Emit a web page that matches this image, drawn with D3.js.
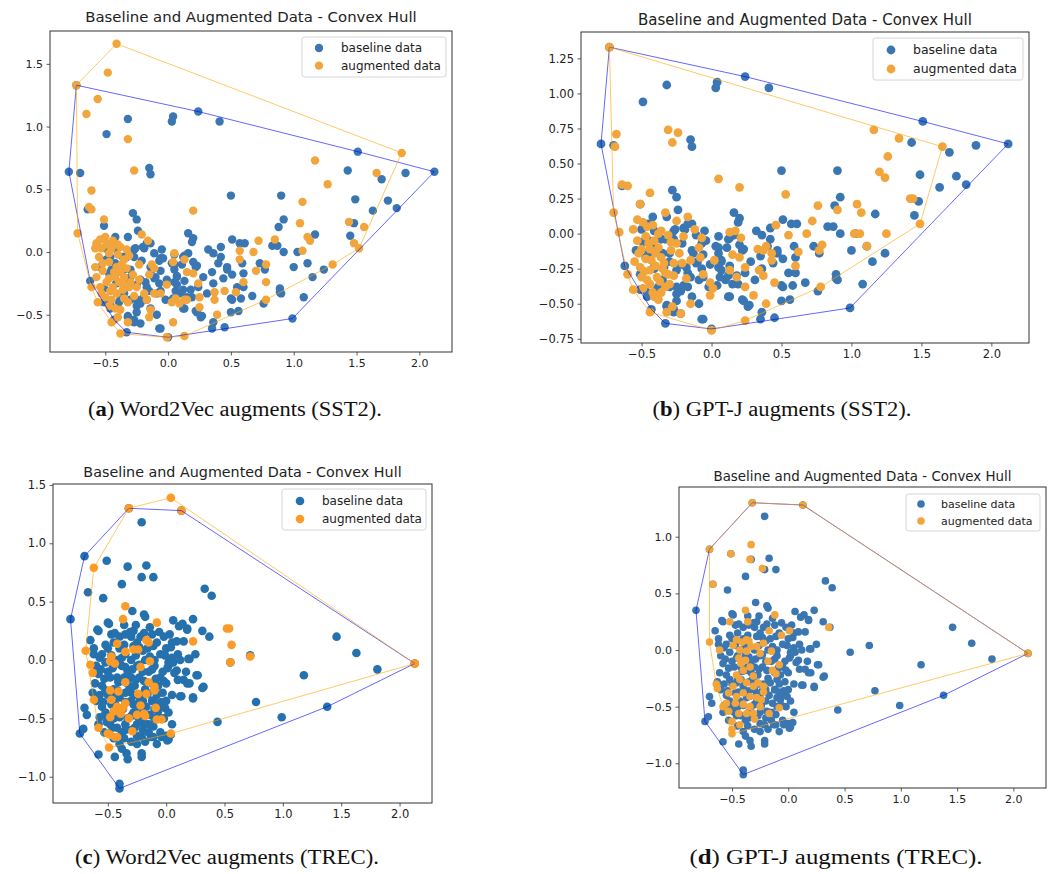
<!DOCTYPE html>
<html><head><meta charset="utf-8">
<script src="https://cdn.jsdelivr.net/npm/d3@7"></script>
<style>body{margin:0;background:#fff}svg{display:block}</style>
</head><body>
<svg id="chart" width="1051" height="874"></svg>
<script>
// ---------- DATA ----------
const seriesNames = ["baseline data", "augmented data"];
const titleText = "Baseline and Augmented Data - Convex Hull";
const captions = [
  ["a", " Word2Vec augments (SST2)."],
  ["b", " GPT-J augments (SST2)."],
  ["c", " Word2Vec augments (TREC)."],
  ["d", " GPT-J augments (TREC)."]
];
const xTicks = [-0.5, 0, 0.5, 1, 1.5, 2];
const yTicksA = [-0.5, 0, 0.5, 1, 1.5];
const yTicksB = [-0.75, -0.5, -0.25, 0, 0.25, 0.5, 0.75, 1, 1.25];
const yTicksC = [-1, -0.5, 0, 0.5, 1, 1.5];
const yTicksD = [-1, -0.5, 0, 0.5, 1];

// baseline (shared by SST2 panels a and b)
const baselineSST2 = [
[-0.79,0.64],[-0.73,1.33],[-0.70,0.63],[-0.64,0.34],[-0.49,0.94],[-0.32,1.06],[0.04,1.08],[0.03,1.04],[0.24,1.12],[0.41,1.04],
[1.51,0.80],[2.12,0.64],[1.89,0.63],[1.43,0.65],[1.70,0.58],[1.49,0.42],[1.75,0.41],[1.82,0.35],[1.63,0.33],[1.48,0.23],
[1.45,0.13],[1.17,0.14],[0.90,0.45],[0.50,0.45],[0.92,0.26],[0.88,0.20],[-0.15,0.67],[-0.14,0.62],[-0.62,-0.23],[-0.28,0.31],
[-0.25,0.26],[-0.51,0.21],[-0.24,0.17],[-0.42,0.12],[-0.32,0.12],[0.16,0.15],[0.20,0.11],[0.19,0.08],[0.51,0.10],[0.57,0.07],
[0.61,0.07],[0.32,0.02],[0.42,0.04],[0.83,0.05],[0.87,0.05],[0.92,0.00],[1.03,0.00],[1.00,-0.12],[1.11,-0.09],[1.24,-0.14],[1.15,-0.20],
[0.89,-0.29],[0.89,-0.32],[1.08,-0.36],[0.76,-0.41],[0.67,-0.35],[0.58,-0.37],[0.50,-0.37],[0.50,-0.48],[0.56,-0.47],[0.45,-0.60],
[0.35,-0.61],[0.36,-0.56],[0.27,-0.51],[0.22,-0.47],[0.12,-0.45],[-0.09,-0.50],[-0.06,-0.61],[-0.27,-0.56],[-0.33,-0.64],[-0.43,-0.54],
[0.99,-0.53],[0.00,-0.68],[0.60,-0.17],[0.73,-0.09],[0.77,-0.14],[0.60,-0.28],[0.47,-0.12],[0.51,-0.18],[0.28,-0.20],[0.23,-0.11],
[0.07,-0.19],[0.05,-0.24],[0.06,-0.31],[0.13,-0.23],[0.11,-0.10],[0.05,-0.10],[0.05,-0.02],[0.13,-0.03],[-0.06,-0.15],[-0.11,-0.21],
[-0.15,-0.31],[-0.20,-0.37],[-0.25,-0.43],[-0.32,-0.51],[-0.39,-0.40],[-0.41,-0.24],[-0.45,-0.14],[-0.47,-0.05],[-0.41,0.02],[-0.36,-0.04],
[-0.27,0.02],[-0.20,0.04],[-0.14,0.07],[-0.21,-0.07],[-0.30,-0.14],[-0.34,-0.24],[-0.25,-0.26],[-0.18,-0.24],[-0.13,-0.14],[-0.07,-0.07],
[-0.04,-0.05],[0.12,-0.30],[0.19,-0.36],[-0.06,-0.31],[-0.25,-0.38],[-0.51,-0.29],[-0.51,-0.40],[-0.46,-0.45],
[-0.11,-0.01],[-0.06,-0.05],[-0.14,-0.12],[-0.10,-0.20],[-0.07,-0.25],[-0.01,-0.22],[0.05,-0.14],[0.07,-0.20],[0.07,-0.26],[0.12,-0.04],
[0.16,-0.01],[0.20,-0.08],[0.22,-0.12],[0.35,-0.16],[0.40,-0.09],[0.44,-0.21],[0.47,-0.14],[0.24,-0.28],[0.18,-0.30],
[0.10,-0.33],[0.04,-0.37],[-0.02,-0.38],[-0.09,-0.33],[-0.17,-0.28],[-0.22,-0.22],[-0.30,-0.20],[-0.35,-0.14],[-0.42,-0.09],[-0.46,-0.04],
[-0.50,0.03],[-0.54,-0.12],[-0.47,-0.17],[-0.41,-0.25],[-0.35,-0.33],[-0.30,-0.38],[-0.38,-0.38],[-0.46,-0.42],[-0.22,-0.41],[-0.17,-0.38],
[-0.14,-0.45],[-0.25,-0.48],[0.15,-0.36],[0.23,-0.48],[0.31,-0.33],[0.36,-0.25],[0.55,-0.28],[0.59,-0.09],
[0.42,-0.04],[0.36,-0.01],[-0.19,0.03],[-0.17,0.07],[-0.26,0.03],[-0.49,-0.06],[-0.45,0.07],[-0.33,-0.04],[-0.27,-0.04],
[-0.05,0.02],[0.03,-0.09],[-0.22,-0.57],[-0.27,-0.54],[-0.32,-0.52],[0.13,-0.45],[0.26,-0.52],[0.51,-0.38],[0.90,-0.33],[-0.07,-0.61]
];
// augmented, Word2Vec (SST2) - panel a
const augW2VSST2 = [
[-0.41,1.66],[-0.48,1.43],[-0.73,1.33],[-0.56,1.22],[-0.65,1.10],[-0.32,0.90],[-0.27,0.65],[-0.61,0.49],[-0.63,0.36],[-0.61,0.34],
[0.20,0.33],[1.17,0.73],[1.27,0.54],[1.66,0.63],[1.86,0.79],[1.07,0.40],[1.05,0.23],[1.44,0.24],[1.56,0.20],[1.11,0.12],
[1.13,0.09],[0.85,0.10],[0.72,0.09],[0.68,0.00],[0.57,0.01],[0.57,-0.06],[0.78,-0.10],[0.70,-0.15],[0.60,-0.24],[0.78,-0.24],
[1.07,0.01],[1.31,-0.10],[1.48,0.07],[1.52,0.03],[-0.51,0.26],[-0.72,0.15],[-0.54,0.10],[-0.58,0.03],[-0.53,0.03],[-0.55,-0.04],
[-0.45,0.03],[-0.49,0.06],[-0.38,0.04],[-0.31,-0.03],[-0.37,-0.10],[-0.41,-0.12],[-0.43,-0.16],[-0.35,-0.20],[-0.39,-0.24],[-0.44,-0.28],
[-0.49,-0.24],[-0.54,-0.28],[-0.61,-0.28],[-0.57,-0.20],[-0.50,-0.36],[-0.56,-0.40],[-0.45,-0.38],[-0.42,-0.45],[-0.38,-0.46],[-0.32,-0.40],
[-0.31,-0.28],[-0.25,-0.28],[-0.15,-0.18],[-0.21,0.14],[-0.16,0.09],[-0.23,-0.10],[-0.13,-0.10],[-0.11,-0.13],[0.05,-0.01],[0.04,-0.08],
[0.13,-0.06],[0.15,-0.16],[0.20,-0.17],[0.24,-0.25],[0.13,-0.38],[0.15,-0.38],[0.06,-0.37],[0.09,-0.41],[0.03,-0.40],[-0.01,-0.26],
[-0.06,-0.33],[-0.11,-0.33],[-0.19,-0.33],[-0.17,-0.38],[-0.14,-0.46],[-0.15,-0.52],[0.25,-0.36],[0.25,-0.44],[0.37,-0.32],[0.37,-0.38],
[0.39,-0.50],[0.04,-0.56],[-0.32,-0.56],[-0.45,-0.56],[-0.38,-0.65],[-0.01,-0.68],[0.13,-0.67],[0.78,-0.38],[0.54,-0.32],[0.45,-0.31],
[-0.47,-0.08],[-0.40,-0.02],[-0.35,-0.06],[-0.46,-0.31],[-0.36,-0.30],[-0.28,-0.18],[-0.52,-0.15],[-0.33,0.02],
[-0.57,0.07],[-0.50,0.12],[-0.44,0.09],[-0.40,0.06],[-0.47,-0.01],[-0.52,-0.09],[-0.58,-0.12],[-0.42,-0.20],[-0.47,-0.21],[-0.38,-0.16],
[-0.33,-0.13],[-0.30,-0.24],[-0.36,-0.25],[-0.41,-0.33],[-0.53,-0.33],[-0.47,-0.43],[-0.35,-0.37],[-0.27,-0.35],[-0.23,-0.22],[-0.40,-0.52]
];
// augmented, GPT-J (SST2) - panel b
const augGPTJSST2 = [
[-0.73,1.33],[-0.68,0.71],[-0.69,0.62],[-0.64,0.35],[-0.60,0.34],[-0.44,0.29],[-0.31,0.74],[-0.24,0.72],[-0.28,0.65],[-0.51,0.21],
[-0.33,0.15],[0.05,0.39],[0.20,0.33],[0.53,0.28],[0.76,0.20],[0.90,0.17],[1.04,0.21],[1.07,0.15],[1.16,0.74],[1.34,0.68],
[1.65,0.62],[1.26,0.55],[1.20,0.44],[1.24,0.40],[1.42,0.25],[1.44,0.25],[1.49,0.07],[0.72,0.09],[0.68,0.00],[1.02,0.00],
[1.06,0.00],[1.25,0.00],[1.11,-0.09],[0.79,-0.08],[0.77,-0.12],[0.55,-0.01],[0.46,0.06],[0.62,-0.13],[0.60,-0.23],[0.43,-0.19],
[0.34,-0.26],[0.37,-0.30],[0.45,-0.35],[0.39,-0.50],[0.24,-0.38],[0.30,-0.44],[0.24,-0.62],[0.78,-0.38],[0.00,-0.69],[0.02,-0.19],
[-0.01,-0.35],[-0.01,-0.44],[0.01,-0.39],[-0.06,-0.29],[-0.08,-0.17],[-0.09,-0.10],[-0.07,-0.03],[-0.12,0.03],[-0.17,0.12],[-0.25,0.09],
[-0.21,-0.21],[-0.15,-0.19],[-0.18,-0.32],[-0.15,-0.50],[-0.22,-0.57],[-0.28,-0.52],[-0.32,-0.56],[-0.44,-0.56],[-0.38,-0.47],
[-0.56,-0.40],[-0.60,-0.29],[-0.66,0.01],[-0.70,0.15],[-0.56,0.03],[-0.53,0.10],[-0.49,0.08],[-0.53,-0.05],[-0.50,-0.11],[-0.47,-0.18],
[-0.51,-0.24],[-0.50,-0.31],[-0.44,-0.36],[-0.39,-0.31],[-0.44,-0.26],[-0.43,-0.19],[-0.44,-0.11],[-0.41,-0.05],[-0.38,-0.10],[-0.36,-0.17],
[-0.34,-0.21],[-0.31,-0.29],[-0.30,-0.36],[-0.33,-0.38],[-0.27,-0.21],[-0.25,-0.07],[-0.31,-0.01],[-0.36,0.02],[0.13,0.01],[0.17,0.02],
[0.21,-0.03],[0.15,-0.15],[0.20,-0.17],[0.13,-0.26],[0.18,-0.31],[0.24,-0.24],[0.33,-0.11],[0.37,-0.12],[0.39,-0.09],[0.43,-0.14],
[-0.47,-0.02],[-0.40,-0.14],[-0.35,-0.25],[-0.42,-0.42],[-0.29,-0.12],[-0.46,0.05],
[-0.52,-0.14],[-0.48,-0.27],[-0.55,-0.20],[-0.46,-0.33],[-0.40,-0.23],[-0.37,-0.34],[-0.33,-0.28],[-0.29,-0.06],[-0.42,0.06],[-0.38,0.00],
[-0.45,-0.07],[-0.49,-0.39],[-0.41,-0.45],[-0.36,-0.42],[-0.27,-0.30],[-0.23,-0.14],[-0.20,-0.02]
];
// baseline (shared by TREC panels c and d)
const baselineTREC = [
[-0.82,0.35],[-0.70,0.89],[-0.67,0.58],[-0.51,0.85],[-0.54,0.53],[-0.33,0.80],[-0.38,0.65],[-0.21,1.18],[-0.21,0.71],[-0.17,0.81],
[-0.11,0.71],[-0.32,1.30],[0.13,1.28],[0.33,0.61],[0.39,0.55],[1.46,0.20],[1.63,0.06],[1.81,-0.08],[2.13,-0.03],[1.18,-0.13],
[0.77,-0.36],[0.99,-0.49],[1.38,-0.40],[0.44,-0.53],[-0.40,-1.10],[-0.40,-1.06],[-0.58,-0.81],[-0.74,-0.63],[-0.71,-0.59],[-0.70,-0.41],
[-0.68,-0.47],[-0.65,0.17],[-0.58,0.25],[-0.49,0.31],[-0.29,0.42],[-0.19,0.39],[-0.18,0.37],[0.06,0.34],[0.23,0.35],[0.31,0.25],
[0.37,0.20],[0.20,0.01],[0.26,-0.13],[0.31,-0.24],[0.23,-0.32],[0.13,-0.31],[0.15,-0.17],[0.09,-0.09],[0.06,-0.02],[0.09,0.16],
[0.15,0.16],[0.18,0.27],[0.11,0.29],[-0.44,-0.83],[-0.34,-0.80],[-0.21,-0.80],[-0.21,-0.83],[-0.11,-0.66],[0.02,-0.68],[-0.04,-0.66],
[-0.51,-0.53],[-0.57,-0.49],[0.55,-0.02],[0.72,0.04],[0.14,0.31],[0.18,0.26],[0.25,0.05],[0.19,0.01],[0.02,-0.02],[0.10,-0.17],
[0.18,-0.20],[0.27,-0.13],[0.32,-0.23],[0.12,-0.31],[0.23,-0.33],[-0.59,0.26],[-0.50,0.32],[-0.38,-0.76],[-0.13,-0.66],[0.04,-0.64],
[0.01,-0.69],[-0.07,-0.44],[-0.01,-0.41],[-0.04,-0.36],[-0.12,-0.35],
[-0.55,0.05],[-0.52,-0.02],[-0.50,-0.10],[-0.48,-0.15],[-0.55,-0.22],[-0.50,-0.30],[-0.47,-0.38],[-0.52,-0.45],[-0.45,-0.50],[-0.42,-0.58],
[-0.38,-0.62],[-0.35,-0.55],[-0.30,-0.60],[-0.25,-0.55],[-0.20,-0.60],[-0.15,-0.55],[-0.10,-0.50],[-0.05,-0.40],[-0.08,-0.30],[-0.12,-0.20],
[-0.15,-0.10],[-0.18,0.00],[-0.20,0.08],[-0.25,0.15],[-0.30,0.20],[-0.35,0.22],[-0.28,0.25],[-0.22,0.20],[-0.40,0.10],[-0.42,0.00],
[-0.38,-0.05],[-0.33,-0.10],[-0.30,-0.15],[-0.27,-0.22],[-0.35,-0.28],[-0.40,-0.32],[-0.30,-0.35],[-0.25,-0.40],[-0.20,-0.45],[-0.22,-0.30],
[-0.18,-0.25],[-0.12,-0.35],[-0.10,-0.42],[-0.15,-0.62],[-0.05,-0.62],[0.00,-0.65],[-0.30,-0.70],[-0.25,-0.72],[-0.40,-0.72],[-0.33,-0.50],
[-0.28,-0.45],[-0.45,-0.25],[-0.42,-0.15],[-0.45,-0.05],[-0.35,0.05],[-0.30,0.00],[-0.25,-0.05],[-0.20,-0.10],[-0.10,-0.05],[-0.05,0.05],
[0.00,0.10],[0.05,0.15],[-0.02,0.20],[-0.08,0.15],[-0.12,0.22],[-0.05,-0.15],[0.00,-0.20],[0.02,-0.05],[-0.03,-0.10],[-0.10,0.00],
[-0.16,0.10],[-0.40,0.20],[-0.45,0.15],[-0.50,0.10],[-0.60,-0.05],[-0.58,-0.12],[-0.60,-0.35],[-0.55,-0.40],[-0.57,-0.30],[-0.28,0.12],
[-0.33,-0.20],[-0.23,-0.15],[-0.37,-0.42],[-0.43,-0.45],[-0.48,-0.55],[-0.07,-0.22],[0.05,-0.30],[-0.20,-0.35],[-0.30,-0.28],[-0.38,-0.18],
[0.10,0.05],[0.12,0.00],[0.17,-0.10],[0.20,-0.20],[0.02,-0.45],[-0.02,-0.50],[0.05,-0.55],[0.00,-0.35],[-0.26,0.30],[-0.14,0.28],
[-0.36,0.30],[-0.47,0.22],[-0.62,0.10],[-0.53,-0.62],[-0.58,-0.55],[-0.25,-0.65],[-0.18,-0.70],[-0.08,-0.72],[-0.33,-0.85],
[-0.44,0.23],[-0.31,0.24],[-0.19,0.23],[-0.06,0.24],[0.03,0.22],[-0.52,0.13],[-0.36,0.13],[-0.23,0.11],[-0.11,0.12],[0.04,0.11],
[-0.57,0.02],[-0.47,0.04],[-0.38,0.02],[-0.26,0.04],[-0.14,0.03],[-0.01,0.04],[0.05,0.02],[-0.56,-0.08],[-0.46,-0.07],[-0.35,-0.06],
[-0.29,-0.08],[-0.23,-0.04],[-0.12,-0.08],[0.01,-0.07],[0.07,-0.11],[-0.53,-0.16],[-0.41,-0.19],[-0.36,-0.15],[-0.26,-0.17],[-0.19,-0.18],
[-0.09,-0.16],[-0.02,-0.18],[-0.52,-0.26],[-0.46,-0.29],[-0.42,-0.26],[-0.32,-0.26],[-0.26,-0.30],[-0.16,-0.29],[-0.10,-0.26],[-0.03,-0.28],
[-0.54,-0.36],[-0.44,-0.37],[-0.35,-0.36],[-0.28,-0.38],[-0.23,-0.36],[-0.17,-0.40],[-0.08,-0.37],[-0.51,-0.48],[-0.40,-0.49],[-0.30,-0.48],
[-0.24,-0.49],[-0.14,-0.47],[-0.06,-0.49],[-0.46,-0.58],[-0.35,-0.60],[-0.27,-0.58],[-0.19,-0.54],[-0.11,-0.57],[-0.45,-0.67],[-0.36,-0.67],
[-0.21,-0.66],[-0.62,0.05],[-0.61,-0.20],[-0.63,-0.28]
];
// augmented, Word2Vec (TREC) - panel c
const augW2VTREC = [
[-0.32,1.30],[0.04,1.39],[0.13,1.28],[-0.62,0.79],[-0.35,0.46],[-0.37,0.35],[-0.08,0.32],[0.23,0.16],[0.52,0.27],[0.54,0.27],
[0.56,0.13],[0.55,-0.02],[0.72,0.03],[2.13,-0.03],[0.04,-0.63],[-0.49,-0.75],[-0.69,0.08],[-0.65,-0.04],[-0.63,-0.11],[-0.62,-0.34],
[-0.58,-0.58],[-0.50,-0.63],[-0.42,-0.66],[-0.29,-0.61],[-0.18,-0.48],[-0.08,-0.51],[-0.04,-0.51],[-0.09,-0.41],[-0.10,-0.23],[-0.10,-0.26],
[-0.17,0.17],[-0.15,0.15],[-0.14,-0.01],[-0.22,-0.06],[-0.24,0.09],[-0.28,0.09],[-0.35,0.07],[-0.42,0.14],[-0.47,0.03],[-0.48,-0.01],
[-0.44,-0.03],[-0.35,-0.19],[-0.48,-0.26],[-0.41,-0.27],[-0.47,-0.34],[-0.42,-0.40],[-0.45,-0.44],[-0.48,-0.49],[-0.39,-0.46],[-0.37,-0.41],
[-0.32,-0.50],[-0.25,-0.47],[-0.22,-0.39],[-0.19,-0.46],[-0.35,-0.37],[-0.24,-0.29],[-0.17,-0.29],[-0.15,-0.19],
[-0.48,-0.64],[-0.44,-0.66]
];
// augmented, GPT-J (TREC) - panel d
const augGPTJTREC = [
[-0.32,1.30],[0.13,1.28],[-0.70,0.89],[-0.51,0.85],[-0.33,0.93],[-0.34,0.80],[-0.23,0.72],[-0.67,0.58],[-0.38,0.35],[-0.36,0.25],
[-0.52,0.25],[-0.12,0.31],[0.36,0.20],[0.01,0.17],[-0.06,0.13],[-0.17,0.17],[-0.22,0.06],[-0.15,-0.01],[2.13,-0.03],[-0.70,0.07],
[-0.61,0.00],[-0.50,-0.70],[-0.50,-0.74],[-0.64,-0.30],[-0.63,-0.34],[-0.58,-0.50],[-0.50,-0.63],[-0.43,-0.66],[-0.30,-0.61],[-0.17,-0.56],
[-0.08,-0.51],[-0.22,-0.37],[-0.22,-0.32],[-0.14,-0.18],[-0.11,-0.21],[-0.08,-0.13],[-0.18,-0.10],
[-0.49,0.04],[-0.46,0.09],[-0.41,0.07],[-0.37,0.09],[-0.43,0.00],[-0.37,-0.01],[-0.33,0.03],[-0.28,0.03],[-0.25,-0.03],[-0.44,-0.07],
[-0.38,-0.09],[-0.34,-0.15],[-0.40,-0.18],[-0.31,-0.23],[-0.43,-0.26],[-0.37,-0.29],[-0.31,-0.32],[-0.27,-0.29],[-0.49,-0.32],[-0.53,-0.38],
[-0.46,-0.41],[-0.40,-0.38],[-0.34,-0.41],[-0.28,-0.42],[-0.25,-0.50],[-0.34,-0.50],[-0.40,-0.48],[-0.47,-0.47],[-0.55,-0.47],[-0.53,-0.54],
[-0.44,-0.56],[-0.37,-0.56],[-0.31,-0.56],[-0.24,-0.44],[-0.42,-0.12],[-0.46,-0.22],[-0.35,0.08]
];

// ---------- LAYOUT ----------
const panels = [
  {base: baselineSST2, aug: augW2VSST2, yTicks: yTicksA, fmt: ".1f",
   box: [50, 452, 31, 352], xd: [-0.94, 2.26], yd: [-0.797, 1.762],
   r: 4.2, blue: "#3a77b2", orange: "#f1a53c", fs: 11, titleY: 22, titleFs: 14.9,
   leg: {x: 302, y: 37, w: 144, h: 40, mx: 319, my: 48, dy: 17.6, tx: 341, fs: 12},
   cap: {cx: 235, y: 416, w: 294}},
  {base: baselineSST2, aug: augGPTJSST2, yTicks: yTicksB, fmt: ".2f",
   box: [581, 1029, 32, 343], xd: [-0.933, 2.269], yd: [-0.78, 1.438],
   r: 4.4, blue: "#3a77b2", orange: "#f1a53c", fs: 11.5, titleY: 24.5, titleFs: 15,
   leg: {x: 873, y: 38, w: 150, h: 42, mx: 891, my: 50, dy: 19, tx: 913, fs: 12.5},
   cap: {cx: 782, y: 416, w: 259}},
  {base: baselineTREC, aug: augW2VTREC, yTicks: yTicksC, fmt: ".1f",
   box: [53, 432, 484, 803], xd: [-0.97, 2.278], yd: [-1.225, 1.508],
   r: 4.3, blue: "#2471ad", orange: "#fc9b28", fs: 11.5, titleY: 476.5, titleFs: 14.3,
   leg: {x: 282, y: 489, w: 144, h: 41, mx: 300, my: 501, dy: 18, tx: 322, fs: 12},
   cap: {cx: 227, y: 864, w: 304}},
  {base: baselineTREC, aug: augGPTJTREC, yTicks: yTicksD, fmt: ".1f",
   box: [679, 1046, 487, 788], xd: [-0.971, 2.29], yd: [-1.218, 1.439],
   r: 3.8, blue: "#3a77b2", orange: "#f1a53c", fs: 11, titleY: 481, titleFs: 13.4,
   leg: {x: 906, y: 494, w: 134, h: 37, mx: 921, my: 504, dy: 17, tx: 941, fs: 11},
   cap: {cx: 836, y: 864, w: 293}}
];

const svg = d3.select("#chart");
svg.append("rect").attr("width", 1051).attr("height", 874).attr("fill", "#fff");
const FONT = "DejaVu Sans, sans-serif";

panels.forEach((p, i) => {
  const [L, R, T, B] = p.box;
  const x = d3.scaleLinear().domain(p.xd).range([L, R]);
  const y = d3.scaleLinear().domain(p.yd).range([B, T]);
  const g = svg.append("g");

  // title
  g.append("text").attr("x", (L + R) / 2).attr("y", p.titleY)
    .attr("text-anchor", "middle").attr("font-family", FONT)
    .attr("font-size", p.titleFs).attr("fill", "#222").text(titleText);

  // clip
  const cid = "clip" + i;
  svg.append("clipPath").attr("id", cid).append("rect")
    .attr("x", L).attr("y", T).attr("width", R - L).attr("height", B - T);
  const plot = g.append("g").attr("clip-path", `url(#${cid})`);

  // points
  plot.append("g").selectAll("circle").data(p.base).join("circle")
    .attr("cx", d => x(d[0])).attr("cy", d => y(d[1])).attr("r", p.r).attr("fill", p.blue);
  plot.append("g").selectAll("circle").data(p.aug).join("circle")
    .attr("cx", d => x(d[0])).attr("cy", d => y(d[1])).attr("r", p.r).attr("fill", p.orange);

  // hulls
  const line = d3.line().x(d => x(d[0])).y(d => y(d[1])).curve(d3.curveLinearClosed);
  const hb = d3.polygonHull(p.base), ha = d3.polygonHull(p.aug);
  plot.append("path").attr("d", line(hb)).attr("fill", "none")
    .attr("stroke", "#0000ff").attr("stroke-opacity", 0.6).attr("stroke-width", 1);
  plot.append("path").attr("d", line(ha)).attr("fill", "none")
    .attr("stroke", "#ffa500").attr("stroke-opacity", 0.6).attr("stroke-width", 1);

  // axes
  const xa = g.append("g").attr("transform", `translate(0,${B})`)
    .call(d3.axisBottom(x).tickValues(xTicks).tickFormat(d3.format(".1f")).tickSizeOuter(0).tickSize(3.5).tickPadding(3.5));
  const ya = g.append("g").attr("transform", `translate(${L},0)`)
    .call(d3.axisLeft(y).tickValues(p.yTicks).tickFormat(d3.format(p.fmt)).tickSizeOuter(0).tickSize(3.5).tickPadding(3.5));
  [xa, ya].forEach(a => {
    a.select(".domain").remove();
    a.selectAll("line").attr("stroke", "#333").attr("stroke-width", 0.8);
    a.selectAll("text").attr("font-family", FONT).attr("font-size", p.fs).attr("fill", "#222");
  });

  // frame
  g.append("rect").attr("x", L).attr("y", T).attr("width", R - L).attr("height", B - T)
    .attr("fill", "none").attr("stroke", "#333").attr("stroke-width", 1);

  // legend
  const lg = p.leg;
  g.append("rect").attr("x", lg.x).attr("y", lg.y).attr("width", lg.w).attr("height", lg.h)
    .attr("rx", 2.5).attr("fill", "#fff").attr("fill-opacity", 0.85)
    .attr("stroke", "#d6d6d6").attr("stroke-width", 1);
  [p.blue, p.orange].forEach((c, k) => {
    g.append("circle").attr("cx", lg.mx).attr("cy", lg.my + k * lg.dy).attr("r", p.r).attr("fill", c);
    g.append("text").attr("x", lg.tx).attr("y", lg.my + k * lg.dy).attr("dy", "0.35em")
      .attr("font-family", FONT).attr("font-size", lg.fs).attr("fill", "#222").text(seriesNames[k]);
  });

  // caption
  const cap = svg.append("text").attr("x", p.cap.cx - p.cap.w / 2).attr("y", p.cap.y)
    .attr("font-family", "Liberation Serif, serif").attr("font-size", 20).attr("fill", "#111")
    .attr("textLength", p.cap.w).attr("lengthAdjust", "spacingAndGlyphs");
  cap.append("tspan").text("(");
  cap.append("tspan").attr("font-weight", "bold").text(captions[i][0]);
  cap.append("tspan").text(")" + captions[i][1]);
});
</script>
</body></html>
